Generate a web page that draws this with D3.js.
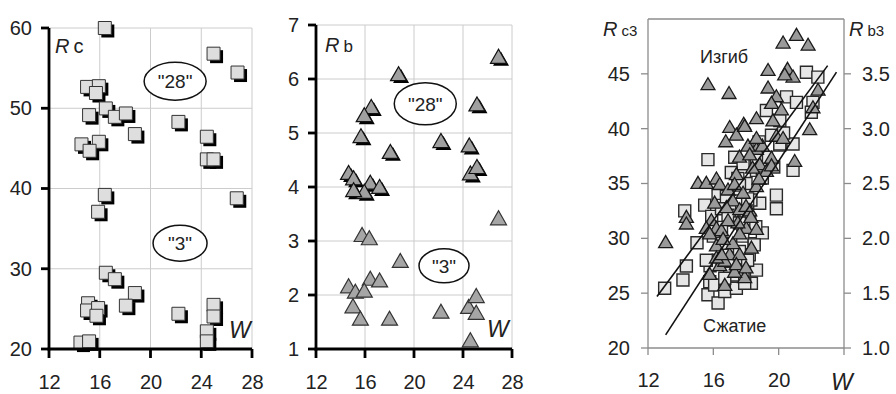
<!DOCTYPE html>
<html>
<head>
<meta charset="utf-8">
<script src="https://cdn.jsdelivr.net/npm/d3@7"></script>
<style>
  body { margin: 0; background: #fff; }
  text { font-family: "Liberation Sans", Arial, sans-serif; fill: #222; }
</style>
</head>
<body>
<script>
// --- data ---
const wTicks = [12, 16, 20, 24, 28];
const rcTicks = [20, 30, 40, 50, 60];
const rbTicks = [1, 2, 3, 4, 5, 6, 7];
const w3Ticks = [12, 16, 20, 24];
const rc3Ticks = [20, 25, 30, 35, 40, 45];
const rb3Ticks = [1.0, 1.5, 2.0, 2.5, 3.0, 3.5];

// panel 1: Rc vs W, groups "28" and "3"
const rc28 = [[16.4, 60.0], [24.97, 56.8], [26.86, 54.45], [15.0, 52.66], [15.93, 52.75], [15.7, 51.9],
  [16.48, 49.98], [15.16, 49.14], [17.19, 48.93], [18.06, 49.35], [22.2, 48.3], [18.77, 46.78],
  [24.44, 46.45], [14.56, 45.5], [15.93, 45.82], [15.2, 44.7], [24.44, 43.63], [24.97, 43.63],
  [16.4, 39.2], [26.8, 38.78], [15.87, 37.1]];
const rc3 = [[16.48, 29.5], [17.19, 28.7], [18.77, 26.97], [18.06, 25.4], [15.08, 25.7], [15.0, 24.8],
  [15.87, 25.1], [15.74, 24.14], [22.2, 24.39], [24.97, 25.5], [24.97, 24.05], [24.44, 22.2],
  [24.44, 20.95], [14.48, 20.8], [15.16, 20.95]];

// panel 2: Rb vs W
const rb28 = [[26.9, 6.42], [18.74, 6.10], [16.51, 5.49], [15.94, 5.34], [25.14, 5.54], [15.67, 4.95],
  [18.07, 4.66], [22.2, 4.86], [24.51, 4.78], [14.66, 4.27], [15.07, 4.17], [24.6, 4.26],
  [25.14, 4.38], [16.43, 4.09], [17.19, 4.01], [15.94, 3.92], [15.07, 3.95]];
const rb3 = [[26.9, 3.43], [15.76, 3.12], [16.35, 3.06], [18.88, 2.64], [16.43, 2.31], [17.19, 2.28],
  [14.66, 2.17], [15.21, 2.07], [15.94, 2.09], [15.02, 1.80], [15.62, 1.57], [18.0, 1.57],
  [22.2, 1.70], [24.46, 1.79], [25.08, 1.99], [25.08, 1.68], [24.6, 1.17]];

// panel 3: compression (squares, Rc3) and bending (triangles, Rb3)
const sqPoints = [[21.7, 45.15], [22.4, 44.7], [20.48, 42.9], [21.09, 42.4], [19.25, 41.66], [22.1, 42.4],
  [22.0, 41.5], [20.07, 40.75], [15.67, 37.18], [17.31, 37.4], [17.82, 36.8], [20.07, 38.5],
  [20.88, 38.6], [20.88, 36.2], [18.64, 36.2], [16.29, 34.1], [15.47, 33.03], [16.8, 33.8],
  [19.86, 33.94], [19.86, 32.7], [18.84, 33.2], [14.25, 32.5], [18.23, 31.66], [17.2, 31.66],
  [19.25, 37.4], [19.56, 39.4], [15.0, 29.6], [14.35, 27.48], [14.14, 26.2], [13.02, 25.45],
  [15.78, 26.05], [15.67, 24.85], [16.29, 24.1], [16.08, 25.75], [16.7, 25.15], [17.41, 25.45],
  [17.0, 27.1], [17.82, 27.1], [18.64, 27.1], [18.33, 25.9], [17.41, 26.66], [16.7, 26.36],
  [17.92, 25.9], [18.0, 35.0], [17.5, 34.5], [18.3, 33.5], [17.0, 32.5], [16.5, 31.0],
  [17.8, 30.2], [18.5, 29.5], [16.9, 29.0], [17.5, 28.2], [18.2, 28.5], [16.3, 28.0],
  [15.8, 27.5], [19.0, 30.5], [18.8, 38.8], [19.0, 35.5], [17.1, 36.0], [20.3, 39.6],
  [19.7, 36.5], [16.0, 30.2], [18.0, 32.2], [15.9, 32.0], [18.64, 37.27], [17.5, 35.45], [20.07, 38.6],
  [17.6, 34.85], [18.1, 33.6], [16.5, 32.7], [16.9, 32.1], [17.6, 31.4], [16.5, 29.55],
  [17.6, 28.8], [18.1, 28.0], [15.57, 28.0], [16.9, 27.9], [18.5, 29.4], [18.6, 31.05]];
const triPoints = [[21.09, 3.86], [20.27, 3.79], [21.8, 3.77], [15.67, 3.41], [16.96, 3.33], [19.35, 3.54],
  [20.54, 3.55], [20.88, 3.48], [20.37, 3.50], [19.35, 3.38], [19.86, 3.30], [22.41, 3.36],
  [22.1, 3.20], [19.56, 3.24], [20.17, 3.18], [18.64, 3.10], [17.86, 3.05], [17.0, 3.02],
  [19.65, 3.08], [21.9, 3.0], [20.98, 2.71], [17.41, 2.95], [16.76, 2.89], [17.92, 3.03],
  [18.64, 2.82], [18.12, 2.85], [19.86, 2.94], [20.27, 2.92], [19.56, 2.74], [18.84, 2.68],
  [15.06, 2.51], [15.57, 2.51], [16.19, 2.55], [16.39, 2.50], [16.9, 2.45], [17.41, 2.59],
  [18.64, 2.48], [19.25, 2.62], [17.82, 2.42], [17.2, 2.35], [16.08, 2.33], [16.8, 2.29],
  [17.61, 2.27], [18.23, 2.26], [14.35, 2.20], [14.35, 2.14], [15.88, 2.17], [16.19, 2.10],
  [13.08, 1.97], [16.19, 1.94], [17.0, 1.86], [17.61, 1.86], [18.02, 2.10], [18.64, 2.09],
  [16.39, 1.76], [15.78, 1.68], [17.92, 1.65], [16.7, 1.58], [17.2, 1.96], [18.33, 1.92],
  [16.5, 2.08], [17.61, 2.05], [18.3, 2.2], [17.5, 2.15], [16.6, 2.0], [18.0, 2.3],
  [17.3, 2.5], [18.8, 2.55], [19.0, 2.85], [17.6, 2.75], [18.4, 2.65], [16.7, 1.8], [17.3, 1.7],
  [18.64, 2.92], [18.23, 2.77], [19.56, 2.67], [16.9, 2.17], [15.57, 2.1], [16.19, 1.83],
  [17.41, 1.77], [18.0, 1.74], [15.78, 2.05], [16.5, 1.86]];
// fitted lines (W, Rc3)
const fitBend = [[12.55, 24.69], [23.0, 45.75]];
const fitComp = [[13.08, 21.2], [23.54, 45.15]];

const svg = d3.select('body').append('svg')
  .attr('width', 896)
  .attr('height', 394);

const triPath = (s, h) => `M${-s / 2},${h / 2}L0,${-h / 2}L${s / 2},${h / 2}Z`;
const sqPath = (s) => `M${-s / 2},${-s / 2}h${s}v${s}h${-s}Z`;

// scales
const x1 = d3.scaleLinear().domain([12, 28]).range([49, 252]);
const y1 = d3.scaleLinear().domain([20, 60]).range([349, 28]);
const x2 = d3.scaleLinear().domain([12, 28]).range([316, 512]);
const y2 = d3.scaleLinear().domain([1, 7]).range([349, 25]);
const x3 = d3.scaleLinear().domain([12, 24]).range([648, 844]);
const y3 = d3.scaleLinear().domain([20, 50]).range([348, 19]);
const y3r = d3.scaleLinear().domain([1, 4]).range([348, 19]);

// segment helper, always drawn straight onto the svg
function seg(xa, ya, xb, yb, w, color) {
  svg.append('line')
    .attr('x1', xa).attr('y1', ya).attr('x2', xb).attr('y2', yb)
    .attr('stroke', color).attr('stroke-width', w);
}

function styleTicks(g, size) {
  g.selectAll('text').style('font-size', size + 'px').style('fill', '#222');
}

// light grid of the first two panels
function grid(x, y, yTicks) {
  const [xa0, xa1] = x.range();
  const [ya0, ya1] = y.range();
  wTicks.slice(1).forEach((d) => seg(x(d), ya0, x(d), ya1, 1, '#cccccc'));
  yTicks.slice(1).forEach((d) => seg(xa0, y(d), xa1, y(d), 1, '#cccccc'));
}

// heavy black left/bottom axes of the first two panels
function heavyAxes(x, y, yTicks) {
  const [xa0, xa1] = x.range();
  const [ya0, ya1] = y.range();
  seg(xa0, ya1, xa0, ya0 + 1.4, 2.8, '#000');
  seg(xa0 - 1.4, ya0, xa1, ya0, 2.8, '#000');
  yTicks.forEach((d) => seg(xa0 - 8, y(d), xa0, y(d), 2.8, '#000'));
  wTicks.forEach((d) => seg(x(d), ya0, x(d), ya0 + 9, 2.8, '#000'));
}

function axisLabels(x, y, yTicks) {
  const [xa0] = x.range();
  const [ya0] = y.range();
  const ya = svg.append('g').attr('transform', `translate(${xa0},0)`)
    .call(d3.axisLeft(y).tickValues(yTicks).tickFormat(d3.format('d')).tickSize(7).tickSizeOuter(0).tickPadding(10));
  const xa = svg.append('g').attr('transform', `translate(0,${ya0})`)
    .call(d3.axisBottom(x).tickValues(wTicks).tickSize(8).tickSizeOuter(0).tickPadding(18));
  [ya, xa].forEach((a) => {
    a.selectAll('.domain, .tick line').remove();
    styleTicks(a, 20);
  });
}

function drawMarkers(data, x, y, shape, fill, stroke, sw, shadow) {
  const sel = svg.append('g');
  if (shadow) {
    sel.append('g').selectAll('path').data(data).join('path')
      .attr('d', shape)
      .attr('transform', (d) => `translate(${x(d[0]) + shadow},${y(d[1]) + shadow})`)
      .attr('fill', '#000');
  }
  sel.append('g').selectAll('path').data(data).join('path')
    .attr('d', shape)
    .attr('transform', (d) => `translate(${x(d[0])},${y(d[1])})`)
    .attr('fill', fill).attr('stroke', stroke).attr('stroke-width', sw);
}

function ellipseLabel(cx, cy, rx, ry, label) {
  svg.append('ellipse').attr('cx', cx).attr('cy', cy).attr('rx', rx).attr('ry', ry)
    .attr('fill', '#fff').attr('stroke', '#111').attr('stroke-width', 1.5);
  svg.append('text').attr('x', cx).attr('y', cy + 7).attr('text-anchor', 'middle')
    .style('font-size', '19px').text(label);
}

function axisTitle(x, y, main, sub, subSize) {
  const t = svg.append('text').attr('x', x).attr('y', y).style('font-size', '20px');
  t.append('tspan').style('font-style', 'italic').text(main);
  t.append('tspan').attr('dx', 4).style('font-size', subSize + 'px').text(sub);
}

function wLabel(x, y) {
  svg.append('text').attr('x', x).attr('y', y)
    .style('font-size', '23px').style('font-style', 'italic').text('W');
}

// ---------- panel 1 ----------
grid(x1, y1, rcTicks);
axisLabels(x1, y1, rcTicks);
ellipseLabel(x1(21.94), y1(53.37), 31, 19, '"28"');
ellipseLabel(x1(22.33), y1(33.18), 27, 18, '"3"');
drawMarkers(rc28.concat(rc3), x1, y1, sqPath(13), '#dedede', '#333', 1, 3);
axisTitle(55, 53, 'R', 'c', 20);
wLabel(229, 338);

// ---------- panel 2 ----------
grid(x2, y2, rbTicks);
axisLabels(x2, y2, rbTicks);
ellipseLabel(x2(20.92), y2(5.54), 31, 21, '"28"');
ellipseLabel(x2(22.45), y2(2.54), 25, 17, '"3"');
drawMarkers(rb3, x2, y2, triPath(16, 14), '#a6a6a6', '#333', 1.2, 0);
drawMarkers(rb28, x2, y2, triPath(16, 14), '#a0a0a0', '#111', 1.2, 2.5);
axisTitle(325, 52, 'R', 'b', 17);
wLabel(487, 337);

// ---------- panel 3 ----------
const ax3 = [
  svg.append('g').attr('transform', `translate(${x3(12)},0)`)
    .call(d3.axisLeft(y3).tickValues(rc3Ticks).tickSize(6).tickSizeOuter(0).tickPadding(12)),
  svg.append('g').attr('transform', `translate(${x3(24)},0)`)
    .call(d3.axisRight(y3r).tickValues(rb3Ticks).tickFormat(d3.format('.1f')).tickSize(6).tickSizeOuter(0).tickPadding(12)),
  svg.append('g').attr('transform', `translate(0,${y3(20)})`)
    .call(d3.axisBottom(x3).tickValues(w3Ticks).tickFormat((d) => (d === 24 ? '' : d)).tickSize(7).tickSizeOuter(0).tickPadding(18))
];
ax3.forEach((a) => {
  a.selectAll('.domain, .tick line').remove();
  styleTicks(a, 20);
});

drawMarkers(sqPoints, x3, y3, sqPath(12), '#e6e6e6', '#2a2a2a', 1.4, 0);
drawMarkers(triPoints, x3, y3r, triPath(14, 12), '#9a9a9a', '#1a1a1a', 1.3, 0);

const line3 = d3.line().x((d) => x3(d[0])).y((d) => y3(d[1]));
[fitBend, fitComp].forEach((l) => {
  svg.append('path').attr('d', line3(l)).attr('fill', 'none').attr('stroke', '#111').attr('stroke-width', 1.6);
});

svg.append('text').attr('x', 700).attr('y', 63).style('font-size', '18px').text('Изгиб');
svg.append('text').attr('x', 703).attr('y', 332).style('font-size', '18px').text('Сжатие');
axisTitle(603, 36, 'R', 'c3', 15);
axisTitle(849, 36, 'R', 'b3', 15);
wLabel(831, 390);

// ---------- frames and axis lines, on top ----------
heavyAxes(x1, y1, rcTicks);
heavyAxes(x2, y2, rbTicks);
const frameColor = '#8c8c8c';
seg(x3(12), y3(50), x3(24), y3(50), 1.3, frameColor);
seg(x3(12), y3(20), x3(24), y3(20), 1.3, frameColor);
seg(x3(12), y3(50), x3(12), y3(20), 1.3, frameColor);
seg(x3(24), y3(50), x3(24), y3(20), 1.3, frameColor);
rc3Ticks.forEach((d) => seg(x3(12) - 7, y3(d), x3(12), y3(d), 1.3, frameColor));
rb3Ticks.forEach((d) => seg(x3(24), y3r(d), x3(24) + 7, y3r(d), 1.3, frameColor));
w3Ticks.forEach((d) => seg(x3(d), y3(20), x3(d), y3(20) + 7, 1.3, frameColor));
</script>
</body>
</html>
